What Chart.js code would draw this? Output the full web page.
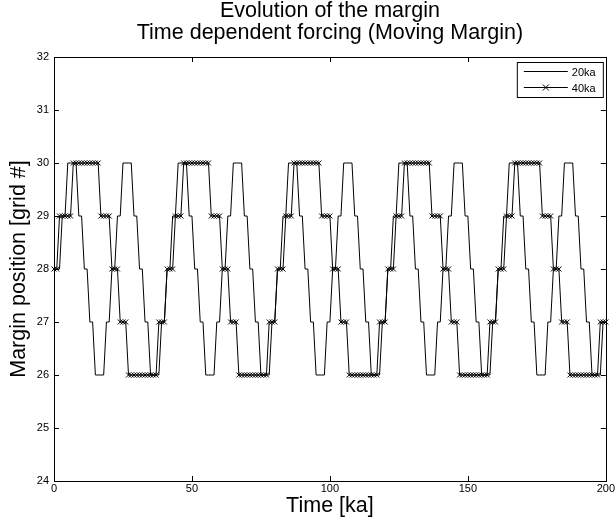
<!DOCTYPE html>
<html>
<head>
<meta charset="utf-8">
<script src="https://cdn.jsdelivr.net/npm/chart.js@4.4.0/dist/chart.umd.min.js"></script>
<style>
  html, body { margin: 0; padding: 0; background: #fff; }
  canvas { display: block; }
</style>
</head>
<body>
<canvas id="chart" width="616" height="522"></canvas>
<script>
// model output sampled every 1 ka, 0..200 ka
const timeKa = Array.from({ length: 201 }, (_, i) => i);

const margin20ka = [
  28, 28, 28, 29, 29, 30, 30, 30, 30, 29, 29, 28, 28, 27, 27, 26, 26, 26, 26, 27,
  27, 28, 28, 29, 29, 30, 30, 30, 30, 29, 29, 28, 28, 27, 27, 26, 26, 26, 26, 27,
  27, 28, 28, 29, 29, 30, 30, 30, 30, 29, 29, 28, 28, 27, 27, 26, 26, 26, 26, 27,
  27, 28, 28, 29, 29, 30, 30, 30, 30, 29, 29, 28, 28, 27, 27, 26, 26, 26, 26, 27,
  27, 28, 28, 29, 29, 30, 30, 30, 30, 29, 29, 28, 28, 27, 27, 26, 26, 26, 26, 27,
  27, 28, 28, 29, 29, 30, 30, 30, 30, 29, 29, 28, 28, 27, 27, 26, 26, 26, 26, 27,
  27, 28, 28, 29, 29, 30, 30, 30, 30, 29, 29, 28, 28, 27, 27, 26, 26, 26, 26, 27,
  27, 28, 28, 29, 29, 30, 30, 30, 30, 29, 29, 28, 28, 27, 27, 26, 26, 26, 26, 27,
  27, 28, 28, 29, 29, 30, 30, 30, 30, 29, 29, 28, 28, 27, 27, 26, 26, 26, 26, 27,
  27, 28, 28, 29, 29, 30, 30, 30, 30, 29, 29, 28, 28, 27, 27, 26, 26, 26, 26, 27,
  27
];

const margin40ka = [
  28, 28, 29, 29, 29, 29, 29, 30, 30, 30, 30, 30, 30, 30, 30, 30, 30, 29, 29, 29,
  29, 28, 28, 28, 27, 27, 27, 26, 26, 26, 26, 26, 26, 26, 26, 26, 26, 26, 27, 27,
  27, 28, 28, 28, 29, 29, 29, 30, 30, 30, 30, 30, 30, 30, 30, 30, 30, 29, 29, 29,
  29, 28, 28, 28, 27, 27, 27, 26, 26, 26, 26, 26, 26, 26, 26, 26, 26, 26, 27, 27,
  27, 28, 28, 28, 29, 29, 29, 30, 30, 30, 30, 30, 30, 30, 30, 30, 30, 29, 29, 29,
  29, 28, 28, 28, 27, 27, 27, 26, 26, 26, 26, 26, 26, 26, 26, 26, 26, 26, 27, 27,
  27, 28, 28, 28, 29, 29, 29, 30, 30, 30, 30, 30, 30, 30, 30, 30, 30, 29, 29, 29,
  29, 28, 28, 28, 27, 27, 27, 26, 26, 26, 26, 26, 26, 26, 26, 26, 26, 26, 27, 27,
  27, 28, 28, 28, 29, 29, 29, 30, 30, 30, 30, 30, 30, 30, 30, 30, 30, 29, 29, 29,
  29, 28, 28, 28, 27, 27, 27, 26, 26, 26, 26, 26, 26, 26, 26, 26, 26, 26, 27, 27,
  27
];

const xTicks = [0, 50, 100, 150, 200];
const yTicks = [24, 25, 26, 27, 28, 29, 30, 31, 32];
const titleLines = ['Evolution of the margin', 'Time dependent forcing (Moving Margin)'];

const FONT = 'Liberation Sans, Arial, Helvetica, sans-serif';

const toPoints = (vals) => vals.map((v, i) => ({ x: timeKa[i], y: v }));

// matlab style box with inward ticks on all four sides
const boxPlugin = {
  id: 'box',
  afterDraw(chart) {
    const { ctx, chartArea: a, scales } = chart;
    const tl = 5;
    ctx.save();
    ctx.strokeStyle = '#000';
    ctx.lineWidth = 1;
    ctx.beginPath();
    yTicks.forEach(v => {
      const y = Math.round(scales.y.getPixelForValue(v)) + 0.5;
      ctx.moveTo(a.left, y); ctx.lineTo(a.left + tl, y);
      ctx.moveTo(a.right, y); ctx.lineTo(a.right - tl, y);
    });
    xTicks.forEach(v => {
      const x = Math.round(scales.x.getPixelForValue(v)) + 0.5;
      ctx.moveTo(x, a.bottom); ctx.lineTo(x, a.bottom - tl);
      ctx.moveTo(x, a.top); ctx.lineTo(x, a.top + tl);
    });
    ctx.stroke();
    ctx.strokeRect(Math.round(a.left) + 0.5, Math.round(a.top) + 0.5,
      Math.round(a.right - a.left), Math.round(a.bottom - a.top));
    ctx.restore();
  }
};

// legend box in the upper right corner
const legendPlugin = {
  id: 'boxLegend',
  afterDraw(chart) {
    const { ctx, chartArea: a } = chart;
    const w = 86, h = 35;
    const x0 = a.right - 3 - w, y0 = a.top + 5;
    ctx.save();
    ctx.fillStyle = '#fff';
    ctx.fillRect(x0, y0, w, h);
    ctx.strokeStyle = '#000';
    ctx.lineWidth = 1;
    ctx.strokeRect(x0 + 0.5, y0 + 0.5, w, h);
    ctx.font = '11px ' + FONT;
    ctx.textBaseline = 'middle';
    ctx.fillStyle = '#000';
    chart.data.datasets.forEach((ds, i) => {
      const y = Math.round(y0 + 9 + i * 16) + 0.5;
      ctx.beginPath();
      ctx.moveTo(x0 + 7, y); ctx.lineTo(x0 + 51, y);
      ctx.stroke();
      if (ds.pointRadius > 0) {
        const cx = x0 + 29, r = 3;
        ctx.beginPath();
        ctx.moveTo(cx - r, y - r); ctx.lineTo(cx + r, y + r);
        ctx.moveTo(cx - r, y + r); ctx.lineTo(cx + r, y - r);
        ctx.stroke();
      }
      ctx.fillText(ds.label, x0 + 55, y + 1);
    });
    ctx.restore();
  }
};

new Chart(document.getElementById('chart'), {
  type: 'line',
  data: {
    datasets: [
      {
        label: '20ka',
        data: toPoints(margin20ka),
        borderColor: '#000',
        borderWidth: 1,
        pointRadius: 0,
        tension: 0
      },
      {
        label: '40ka',
        data: toPoints(margin40ka),
        borderColor: '#000',
        borderWidth: 1,
        pointStyle: 'crossRot',
        pointRadius: 3.5,
        pointBorderWidth: 1,
        pointBorderColor: '#000',
        tension: 0,
        clip: false
      }
    ]
  },
  options: {
    responsive: false,
    animation: false,
    devicePixelRatio: 1,
    layout: { padding: { left: 0, right: 10, top: 0, bottom: 0 }, autoPadding: false },
    scales: {
      x: {
        type: 'linear', min: 0, max: 200,
        afterBuildTicks: s => { s.ticks = xTicks.map(v => ({ value: v })); },
        ticks: { color: '#000', font: { family: FONT, size: 11 }, padding: 1, maxRotation: 0 },
        grid: { display: false, drawTicks: false },
        border: { display: false },
        title: { display: true, text: 'Time [ka]', color: '#000', font: { family: FONT, size: 21.5 }, padding: { top: 0, bottom: 3 } },
        afterFit: s => { s.height = 41; }
      },
      y: {
        type: 'linear', min: 24, max: 32,
        afterBuildTicks: s => { s.ticks = yTicks.map(v => ({ value: v })); },
        ticks: { color: '#000', font: { family: FONT, size: 11 }, padding: 5 },
        grid: { display: false, drawTicks: false },
        border: { display: false },
        title: { display: true, text: 'Margin position [grid #]', color: '#000', font: { family: FONT, size: 21.5 }, padding: { top: 6, bottom: 0 } },
        afterFit: s => { s.width = 54; }
      }
    },
    plugins: {
      legend: { display: false },
      tooltip: { enabled: false },
      title: {
        display: true,
        fullSize: false,
        text: titleLines,
        color: '#000',
        font: { family: FONT, size: 21.5, weight: 'normal', lineHeight: '22px' },
        padding: { top: 0, bottom: 13 }
      }
    }
  },
  plugins: [boxPlugin, legendPlugin]
});
</script>
</body>
</html>
